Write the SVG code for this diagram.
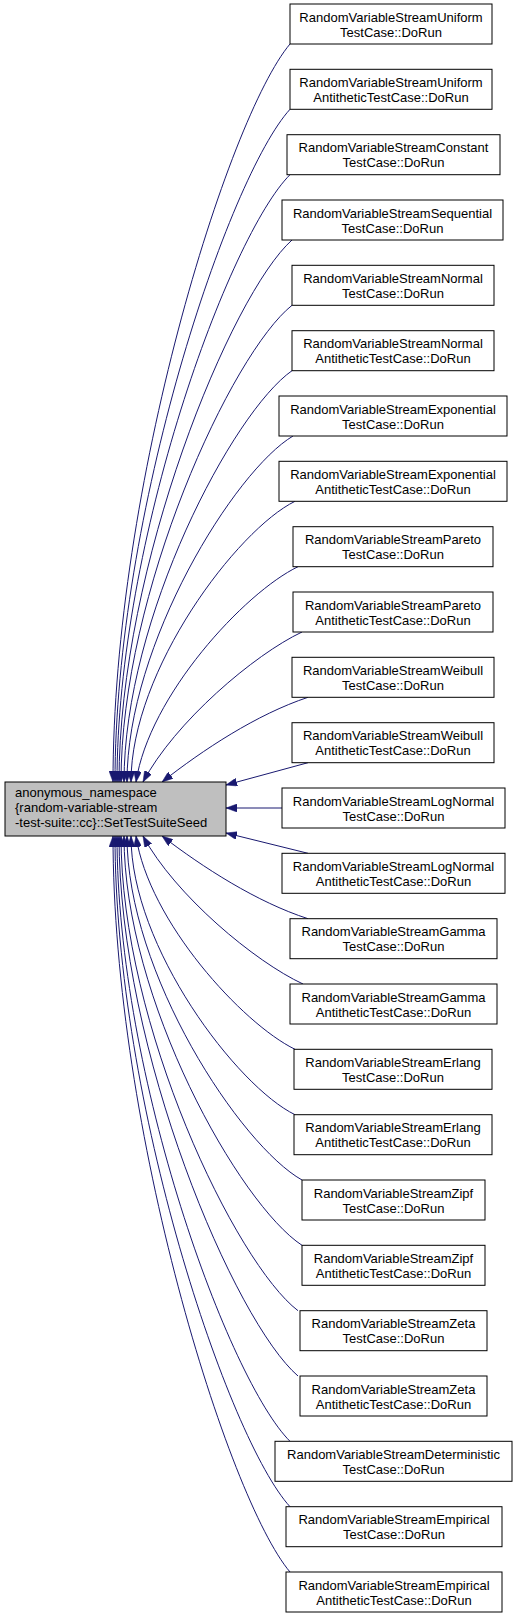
<svg xmlns="http://www.w3.org/2000/svg" width="517" height="1619" viewBox="0 0 517 1619">
<style>
.bg{fill:#fff}
.n rect{fill:#fff;stroke:#000;stroke-width:1}
.n.main rect{fill:#bfbfbf}
text{font-family:"Liberation Sans",Arial,Helvetica,sans-serif;font-size:13px;fill:#000}
.n text{text-anchor:middle}
.n.main text{text-anchor:start}
.e path{fill:none;stroke:#191970;stroke-width:1;marker-end:url(#ah)}
</style>
<defs>
<marker id="ah" viewBox="0 0 11 8" refX="11" refY="4" markerWidth="11" markerHeight="8" markerUnits="userSpaceOnUse" orient="auto">
<path d="M0,0 L11,4 L0,8 z" fill="#191970" stroke="#191970" stroke-width="0.5"/>
</marker>
</defs>
<rect class="bg" x="0" y="0" width="517" height="1619"/>
<g id="connectors" class="e">
<path d="M290,44 C228,117.8 113,486.8 113,782"/>
<path d="M290,109.3 C228.7,176.6 115,512.9 115,782"/>
<path d="M290,174.7 C229.4,235.4 117,539.1 117,782"/>
<path d="M292,240 C231.4,294.2 119,565.2 119,782"/>
<path d="M292,305.3 C232.1,353 121,591.3 121,782"/>
<path d="M292,370.7 C233.2,411.8 124,617.5 124,782"/>
<path d="M293,436 C234.9,470.6 127,643.6 127,782"/>
<path d="M295,501.3 C237.6,529.4 131,669.7 131,782"/>
<path d="M298,566.7 C244.5,592.5 149,695.9 136,782"/>
<path d="M302,632 C254.3,654.5 174.8,722 143,782"/>
<path d="M308,697.3 C256.9,714.2 202.9,749.8 162,782"/>
<path d="M308,762.7 L226,785"/>
<path d="M282,808 L226,808"/>
<path d="M308,853.3 L226,833"/>
<path d="M308,918.7 C256.9,902.2 202.9,867.4 162,836"/>
<path d="M303,984 C255,961.8 175,895.2 143,836"/>
<path d="M295,1049.3 C242.5,1023.7 148.7,921.3 136,836"/>
<path d="M295,1114.7 C237.6,1086.8 131,947.5 131,836"/>
<path d="M302,1180 C240.7,1145.6 127,973.6 127,836"/>
<path d="M302,1245.3 C239.7,1204.4 124,999.7 124,836"/>
<path d="M298,1310.7 C236,1263.2 121,1025.9 121,836"/>
<path d="M298,1376 C235.3,1322 119,1052 119,836"/>
<path d="M290,1441.3 C229.4,1380.8 117,1078.1 117,836"/>
<path d="M290,1506.7 C228.7,1439.6 115,1104.3 115,836"/>
<path d="M290,1572 C228,1498.4 113,1130.4 113,836"/>
</g>
<g id="main" class="n main">
<rect x="5" y="782" width="221" height="54"/>
<text x="15" y="797">anonymous_namespace</text>
<text x="15" y="812">{random-variable-stream</text>
<text x="15" y="827">-test-suite::cc}::SetTestSuiteSeed</text>
</g>
<g id="n0" class="n"><rect x="290" y="4" width="202" height="40"/><text x="391" y="21.5">RandomVariableStreamUniform</text><text x="391" y="36.5">TestCase::DoRun</text></g>
<g id="n1" class="n"><rect x="290" y="69.3" width="202" height="40"/><text x="391" y="86.8">RandomVariableStreamUniform</text><text x="391" y="101.8">AntitheticTestCase::DoRun</text></g>
<g id="n2" class="n"><rect x="287" y="134.7" width="213" height="40"/><text x="393.5" y="152.2">RandomVariableStreamConstant</text><text x="393.5" y="167.2">TestCase::DoRun</text></g>
<g id="n3" class="n"><rect x="282" y="200" width="221" height="40"/><text x="392.5" y="217.5">RandomVariableStreamSequential</text><text x="392.5" y="232.5">TestCase::DoRun</text></g>
<g id="n4" class="n"><rect x="292" y="265.3" width="202" height="40"/><text x="393" y="282.8">RandomVariableStreamNormal</text><text x="393" y="297.8">TestCase::DoRun</text></g>
<g id="n5" class="n"><rect x="292" y="330.7" width="202" height="40"/><text x="393" y="348.2">RandomVariableStreamNormal</text><text x="393" y="363.2">AntitheticTestCase::DoRun</text></g>
<g id="n6" class="n"><rect x="279" y="396" width="228" height="40"/><text x="393" y="413.5">RandomVariableStreamExponential</text><text x="393" y="428.5">TestCase::DoRun</text></g>
<g id="n7" class="n"><rect x="279" y="461.3" width="228" height="40"/><text x="393" y="478.8">RandomVariableStreamExponential</text><text x="393" y="493.8">AntitheticTestCase::DoRun</text></g>
<g id="n8" class="n"><rect x="293" y="526.7" width="200" height="40"/><text x="393" y="544.2">RandomVariableStreamPareto</text><text x="393" y="559.2">TestCase::DoRun</text></g>
<g id="n9" class="n"><rect x="293" y="592" width="200" height="40"/><text x="393" y="609.5">RandomVariableStreamPareto</text><text x="393" y="624.5">AntitheticTestCase::DoRun</text></g>
<g id="n10" class="n"><rect x="292" y="657.3" width="202" height="40"/><text x="393" y="674.8">RandomVariableStreamWeibull</text><text x="393" y="689.8">TestCase::DoRun</text></g>
<g id="n11" class="n"><rect x="292" y="722.7" width="202" height="40"/><text x="393" y="740.2">RandomVariableStreamWeibull</text><text x="393" y="755.2">AntitheticTestCase::DoRun</text></g>
<g id="n12" class="n"><rect x="282" y="788" width="223" height="40"/><text x="393.5" y="805.5">RandomVariableStreamLogNormal</text><text x="393.5" y="820.5">TestCase::DoRun</text></g>
<g id="n13" class="n"><rect x="282" y="853.3" width="223" height="40"/><text x="393.5" y="870.8">RandomVariableStreamLogNormal</text><text x="393.5" y="885.8">AntitheticTestCase::DoRun</text></g>
<g id="n14" class="n"><rect x="290" y="918.7" width="207" height="40"/><text x="393.5" y="936.2">RandomVariableStreamGamma</text><text x="393.5" y="951.2">TestCase::DoRun</text></g>
<g id="n15" class="n"><rect x="290" y="984" width="207" height="40"/><text x="393.5" y="1001.5">RandomVariableStreamGamma</text><text x="393.5" y="1016.5">AntitheticTestCase::DoRun</text></g>
<g id="n16" class="n"><rect x="294" y="1049.3" width="198" height="40"/><text x="393" y="1066.8">RandomVariableStreamErlang</text><text x="393" y="1081.8">TestCase::DoRun</text></g>
<g id="n17" class="n"><rect x="294" y="1114.7" width="198" height="40"/><text x="393" y="1132.2">RandomVariableStreamErlang</text><text x="393" y="1147.2">AntitheticTestCase::DoRun</text></g>
<g id="n18" class="n"><rect x="302" y="1180" width="183" height="40"/><text x="393.5" y="1197.5">RandomVariableStreamZipf</text><text x="393.5" y="1212.5">TestCase::DoRun</text></g>
<g id="n19" class="n"><rect x="302" y="1245.3" width="183" height="40"/><text x="393.5" y="1262.8">RandomVariableStreamZipf</text><text x="393.5" y="1277.8">AntitheticTestCase::DoRun</text></g>
<g id="n20" class="n"><rect x="300" y="1310.7" width="187" height="40"/><text x="393.5" y="1328.2">RandomVariableStreamZeta</text><text x="393.5" y="1343.2">TestCase::DoRun</text></g>
<g id="n21" class="n"><rect x="300" y="1376" width="187" height="40"/><text x="393.5" y="1393.5">RandomVariableStreamZeta</text><text x="393.5" y="1408.5">AntitheticTestCase::DoRun</text></g>
<g id="n22" class="n"><rect x="275" y="1441.3" width="237" height="40"/><text x="393.5" y="1458.8">RandomVariableStreamDeterministic</text><text x="393.5" y="1473.8">TestCase::DoRun</text></g>
<g id="n23" class="n"><rect x="286" y="1506.7" width="216" height="40"/><text x="394" y="1524.2">RandomVariableStreamEmpirical</text><text x="394" y="1539.2">TestCase::DoRun</text></g>
<g id="n24" class="n"><rect x="286" y="1572" width="216" height="40"/><text x="394" y="1589.5">RandomVariableStreamEmpirical</text><text x="394" y="1604.5">AntitheticTestCase::DoRun</text></g>
</svg>
